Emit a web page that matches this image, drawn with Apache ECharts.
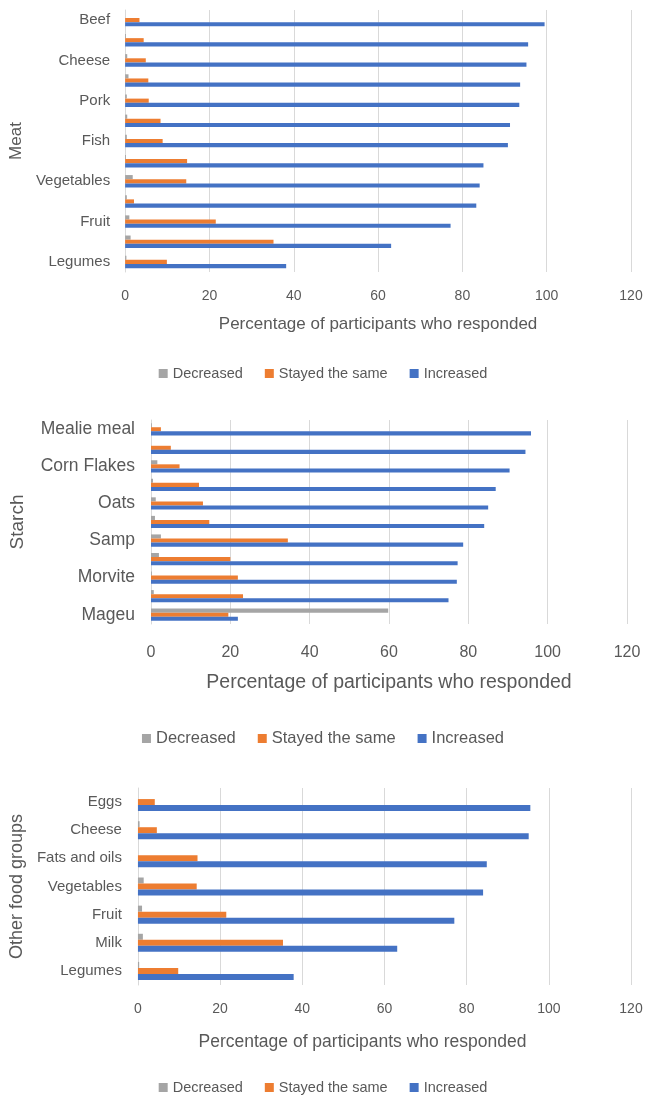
<!DOCTYPE html>
<html>
<head>
<meta charset="utf-8">
<script src="https://cdn.jsdelivr.net/npm/echarts@6/dist/echarts.min.js"></script>
<style>
  html, body { margin: 0; padding: 0; background: #fff; }
  #chart { width: 646px; height: 1099px; }
</style>
</head>
<body>
<div id="chart"></div>
<script>
// ==================== data
const seriesNames = ['Decreased', 'Stayed the same', 'Increased'];
const xTicks = [0, 20, 40, 60, 80, 100, 120];

// meat (every other label is hidden in the original)
const meatCats = ['Beef', 'Eggs', 'Cheese', 'Chicken', 'Pork', 'Mutton', 'Fish',
  'Fats and oils', 'Vegetables', 'Polony', 'Fruit', 'Milk', 'Legumes'];
const meatDecreased = [0, 0.2, 0.5, 0.8, 0.4, 0.5, 0.4, 0.2, 1.8, 0.4, 1, 1.3, 0.3];
const meatSame = [3.4, 4.4, 4.9, 5.5, 5.6, 8.4, 8.9, 14.7, 14.5, 2.1, 21.5, 35.2, 9.9];
const meatIncreased = [99.5, 95.6, 95.2, 93.7, 93.5, 91.3, 90.8, 85, 84.1, 83.3, 77.2, 63.1, 38.2];

// starch
const starchCats = ['Mealie meal', 'Bread', 'Corn Flakes', 'Rice', 'Oats', 'Pasta',
  'Samp', 'Potatoes', 'Morvite', 'Maltabella', 'Mageu'];
const starchDecreased = [0.2, 0, 1.6, 0.5, 1.2, 1, 2.5, 2, 0.2, 0.7, 59.8];
const starchSame = [2.5, 5, 7.2, 12.1, 13.1, 14.7, 34.5, 20, 21.9, 23.2, 19.5];
const starchIncreased = [95.8, 94.4, 90.4, 86.9, 85, 84, 78.7, 77.3, 77.1, 75, 21.9];

// other food groups
const otherCats = ['Eggs', 'Cheese', 'Fats and oils', 'Vegetables', 'Fruit', 'Milk', 'Legumes'];
const otherDecreased = [0, 0.4, 0, 1.4, 1, 1.2, 0.3];
const otherSame = [4.1, 4.6, 14.5, 14.3, 21.5, 35.3, 9.8];
const otherIncreased = [95.5, 95.1, 84.9, 84, 77, 63.1, 37.9];

const colors = ['#A5A5A5', '#ED7D31', '#4472C4'];
const FONT = '"Liberation Sans", Arial, sans-serif';
const TXT = '#595959';

// ==================== panels
const panels = [
  {
    cats: meatCats, data: [meatDecreased, meatSame, meatIncreased], yName: 'Meat',
    grid: { left: 123, right: 15, top: 10, height: 262 },
    labelSize: 15, labelMargin: 15, tickSize: 14, tickMargin: 17, titleSize: 17,
    titlePad: [0, 0, 0, 0], yNameSize: 17, legendSize: 14.5,
    labelInterval: 1, nameGap: 100, xNameGap: 44, gap: '38%', legendTop: 361,
  },
  {
    cats: starchCats, data: [starchDecreased, starchSame, starchIncreased], yName: 'Starch',
    grid: { left: 151, right: 19, top: 420, height: 204 },
    labelSize: 17.5, labelMargin: 16, tickSize: 16, tickMargin: 21, titleSize: 19.5,
    titlePad: [0, 0, 0, 0], yNameSize: 19, legendSize: 16.5,
    labelInterval: 1, nameGap: 124, xNameGap: 49, gap: '34%', legendTop: 725,
  },
  {
    cats: otherCats, data: [otherDecreased, otherSame, otherIncreased], yName: 'Other food groups',
    grid: { left: 136, right: 15, top: 788, height: 197 },
    labelSize: 15, labelMargin: 16, tickSize: 14, tickMargin: 17, titleSize: 17.5,
    titlePad: [0, 44, 0, 0], yNameSize: 18, legendSize: 14.5,
    labelInterval: 0, nameGap: 111, xNameGap: 48, gap: '36%', legendTop: 1075,
  },
];

const grid = [];
const xAxis = [];
const yAxis = [];
const series = [];
const legend = [];

panels.forEach((p, i) => {
  grid.push(p.grid);
  xAxis.push({
    type: 'value',
    gridIndex: i,
    min: xTicks[0],
    max: xTicks[xTicks.length - 1],
    interval: xTicks[1] - xTicks[0],
    name: 'Percentage of participants who responded',
    nameLocation: 'middle',
    nameGap: p.xNameGap,
    nameTextStyle: { fontFamily: FONT, fontSize: p.titleSize, color: TXT, padding: p.titlePad },
    axisLine: { show: false },
    axisTick: { show: false },
    axisLabel: { fontFamily: FONT, fontSize: p.tickSize, color: TXT, margin: p.tickMargin },
    splitLine: { show: true, lineStyle: { color: '#D9D9D9', width: 1 } },
  });
  yAxis.push({
    type: 'category',
    gridIndex: i,
    inverse: true,
    data: p.cats,
    name: p.yName,
    nameLocation: 'middle',
    nameRotate: 90,
    nameGap: p.nameGap,
    nameTextStyle: { fontFamily: FONT, fontSize: p.yNameSize, color: TXT },
    axisLine: { show: true, lineStyle: { color: '#D9D9D9', width: 1 } },
    axisTick: { show: false },
    axisLabel: {
      fontFamily: FONT, fontSize: p.labelSize, color: TXT, margin: p.labelMargin,
      interval: p.labelInterval,
    },
  });
  seriesNames.forEach((name, k) => {
    series.push({
      type: 'bar',
      name,
      xAxisIndex: i,
      yAxisIndex: i,
      data: p.data[k],
      barGap: '0%',
      barCategoryGap: p.gap,
      itemStyle: { color: colors[k] },
      animation: false,
    });
  });
  legend.push({
    data: seriesNames,
    left: 'center',
    top: p.legendTop,
    itemWidth: 9,
    itemHeight: 9,
    itemGap: 22,
    icon: 'rect',
    textStyle: { fontFamily: FONT, fontSize: p.legendSize, color: TXT },
  });
});

const chart = echarts.init(document.getElementById('chart'), null, { renderer: 'canvas' });
chart.setOption({
  backgroundColor: '#ffffff',
  animation: false,
  color: colors,
  grid,
  xAxis,
  yAxis,
  series,
  legend,
});
</script>
</body>
</html>
